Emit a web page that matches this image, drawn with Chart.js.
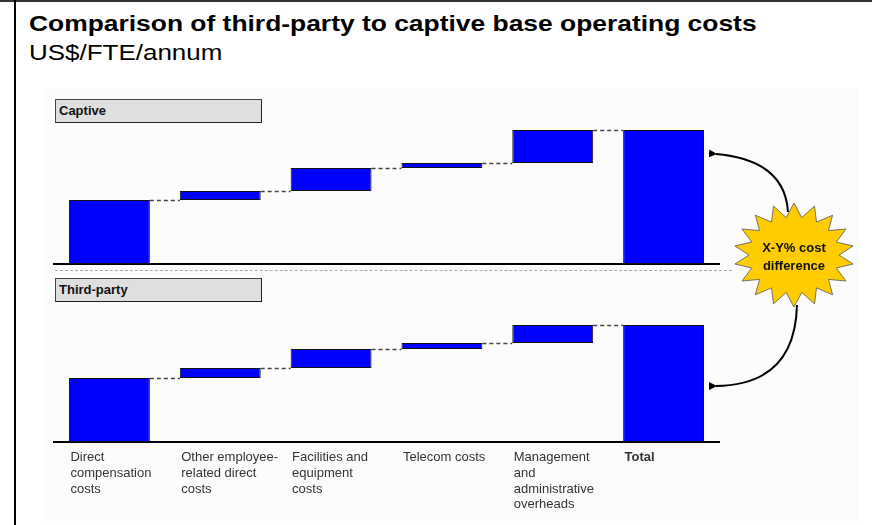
<!DOCTYPE html>
<html>
<head>
<meta charset="utf-8">
<script src="https://cdn.jsdelivr.net/npm/chart.js@4"></script>
<style>
  body { margin: 0; width: 872px; height: 525px; position: relative; overflow: hidden; background: #fff;
         font-family: 'Liberation Sans', Arial, sans-serif; color: #000; }
  .abs { position: absolute; }
  .title { left: 29px; top: 11px; font-size: 22px; font-weight: bold; white-space: nowrap;
           transform: scaleX(1.2); transform-origin: left top; line-height: 1.15; }
  .sub { left: 29px; top: 40px; font-size: 22px; white-space: nowrap;
         transform: scaleX(1.18); transform-origin: left top; line-height: 1.15; }
  .tag { left: 55px; width: 202px; height: 22px; background: #dfdfdf; border: 1px solid #444;
         border-right-color: #222; border-bottom-color: #222; font-size: 13px; font-weight: bold;
         line-height: 22px; padding-left: 3px; box-sizing: content-box; color: #111; }
</style>
</head>
<body>
<div class="abs" style="left:0;top:0;width:872px;height:2px;background:#333"></div>
<div class="abs" style="left:14px;top:0;width:2px;height:525px;background:#000"></div>
<div class="abs title">Comparison of third-party to captive base operating costs</div>
<div class="abs sub">US$/FTE/annum</div>
<div class="abs" style="left:45px;top:88px;width:813px;height:434px;background:#fcfcfc"></div>
<div class="abs tag" style="top:99px">Captive</div>
<div class="abs tag" style="top:278px">Third-party</div>
<div class="abs" style="left:55px;top:270px;width:677px;height:0;border-top:1px dashed #aaa"></div>

<canvas id="captiveChart" class="abs" width="872" height="160" style="left:0;top:110px"></canvas>
<canvas id="thirdPartyChart" class="abs" width="872" height="237" style="left:0;top:288px"></canvas>

<svg id="callout" class="abs" width="872" height="525" style="left:0;top:0">
  <defs>
    <marker id="head" markerWidth="8" markerHeight="8" refX="1" refY="4" orient="auto-start-reverse" markerUnits="userSpaceOnUse">
      <path d="M8,0 L0,4 L8,8 Z" fill="#000"/>
    </marker>
  </defs>
  <path d="M788,212 Q785,160 716,154" fill="none" stroke="#000" stroke-width="2" marker-end="url(#head)"/>
  <path d="M797,305 Q795,385 716,386" fill="none" stroke="#000" stroke-width="2" marker-end="url(#head)"/>
  <polygon id="star" fill="#ffcc00" stroke="#555" stroke-width="0.8"/>
  <text x="794" y="252" text-anchor="middle" font-family="Liberation Sans, Arial" font-size="13" font-weight="bold" fill="#111">X-Y% cost</text>
  <text x="794" y="270" text-anchor="middle" font-family="Liberation Sans, Arial" font-size="13" font-weight="bold" fill="#111">difference</text>
</svg>

<script>
// Categories (multi-line tick labels)
const categories = [
    ['Direct', 'compensation', 'costs'],
    ['Other employee-', 'related direct', 'costs'],
    ['Facilities and', 'equipment', 'costs'],
    ['Telecom costs'],
    ['Management', 'and', 'administrative', 'overheads'],
    ['Total']
];

// Cost components (relative units)
const captiveCosts = [64, 9, 23, 5, 33];
const thirdPartyCosts = [64, 10, 19, 6, 18];

const yMax = 154;

// waterfall steps: [start, end] for every component, then the total from 0
function waterfall(values) {
    let running = 0;
    const steps = values.map(v => {
        const step = [running, running + v];
        running += v;
        return step;
    });
    steps.push([0, running]);
    return steps;
}

// dashed connectors between bars
const connectorPlugin = {
    id: 'connectors',
    afterDatasetsDraw(chart) {
        const bars = chart.getDatasetMeta(0).data;
        const steps = chart.data.datasets[0].data;
        const yScale = chart.scales.y;
        const ctx = chart.ctx;
        ctx.save();
        ctx.strokeStyle = '#444';
        ctx.lineWidth = 1.3;
        ctx.setLineDash([4, 3]);
        for (let i = 0; i < bars.length - 1; i++) {
            const level = Math.round(yScale.getPixelForValue(steps[i][1])) + 0.5;
            const x0 = bars[i].x + bars[i].width / 2;
            const x1 = bars[i + 1].x - bars[i + 1].width / 2;
            ctx.beginPath();
            ctx.moveTo(x0, level);
            ctx.lineTo(x1, level);
            ctx.stroke();
        }
        ctx.restore();
    }
};

function makeChart(canvas, values, showLabels, axisHeight) {
    return new Chart(canvas, {
        type: 'bar',
        data: {
            labels: categories,
            datasets: [{
                data: waterfall(values),
                backgroundColor: '#0000ff',
                borderColor: '#111',
                borderWidth: 1,
                borderSkipped: false,
                barPercentage: 0.73,
                categoryPercentage: 1.0
            }]
        },
        options: {
            responsive: false,
            animation: false,
            layout: { padding: { left: 54, right: 153, top: 0, bottom: showLabels ? 0 : 6 } },
            plugins: { legend: { display: false }, tooltip: { enabled: false } },
            scales: {
                x: {
                    grid: { display: false, drawTicks: false },
                    border: { display: true, color: '#000', width: 2 },
                    afterFit: (scale) => { scale.height = axisHeight; },
                    ticks: {
                        display: showLabels,
                        autoSkip: false,
                        maxRotation: 0,
                        minRotation: 0,
                        align: 'start',
                        labelOffset: -39,
                        padding: 8,
                        color: '#333',
                        font: (ctx) => ({
                            family: "'Liberation Sans', Arial, sans-serif",
                            size: 13,
                            lineHeight: 1.2,
                            weight: ctx.index === categories.length - 1 ? 'bold' : 'normal'
                        })
                    }
                },
                y: { display: false, min: 0, max: yMax }
            }
        },
        plugins: [connectorPlugin]
    });
}

makeChart(document.getElementById('captiveChart'), captiveCosts, false, 0);
makeChart(document.getElementById('thirdPartyChart'), thirdPartyCosts, true, 83);

// starburst callout
(function () {
    const cx = 794, cy = 255, spikes = 18;
    const pts = [];
    for (let i = 0; i < spikes * 2; i++) {
        const a = Math.PI * i / spikes - Math.PI / 2;
        const rx = i % 2 === 0 ? 60 : 45;
        const ry = i % 2 === 0 ? 52 : 38;
        pts.push((cx + rx * Math.cos(a)).toFixed(1) + ',' + (cy + ry * Math.sin(a)).toFixed(1));
    }
    document.getElementById('star').setAttribute('points', pts.join(' '));
})();
</script>
</body>
</html>
